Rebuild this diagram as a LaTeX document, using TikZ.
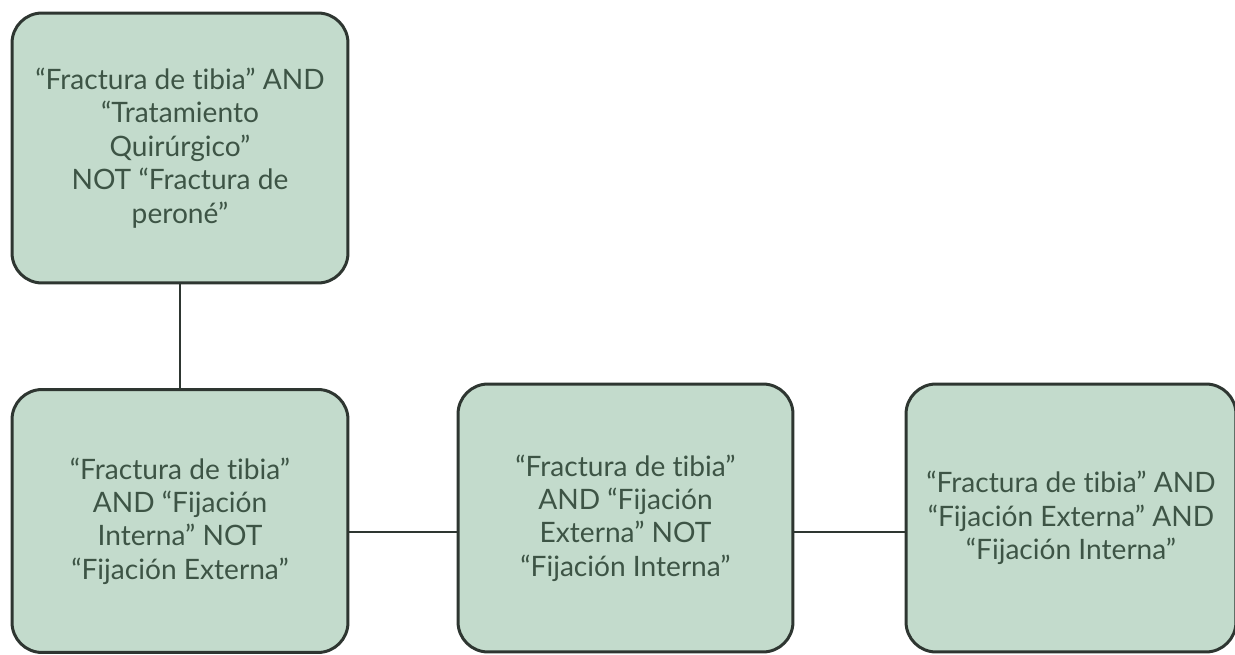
\documentclass[tikz,border=0pt]{standalone}
\usepackage{fontspec}
\setmainfont{Lato}[Ligatures=NoCommon]
\usepackage{xcolor}
\usetikzlibrary{positioning}

\definecolor{boxfill}{HTML}{C3DBCC}
\definecolor{boxline}{HTML}{2E3631}
\definecolor{boxtext}{HTML}{3D5445}

\tikzset{
    query/.style={draw=boxline, fill=boxfill, line width=1.7pt, rounded corners=0.6cm,
        text=boxtext, align=center, inner sep=0pt,
        font=\fontsize{16}{19}\selectfont},
    link/.style={draw=boxline, line width=1.3pt}
}

\begin{document}
\begin{tikzpicture}[x=0.02cm,y=-0.02cm]
    \useasboundingbox (0,0) rectangle (1235,655);

    % Boxes
    \node[query, minimum width=6.72cm, minimum height=5.4cm] (start) at (180,148)
        {“Fractura de tibia” AND\\ “Tratamiento\\ Quirúrgico”\\ NOT “Fractura de\\ peroné”};
    \node[query, minimum width=6.72cm, minimum height=5.26cm] (interna) at (180,521)
        {“Fractura de tibia”\\ AND “Fijación\\ Interna” NOT\\ “Fijación Externa”};
    \node[query, minimum width=6.7cm, minimum height=5.36cm] (externa) at (625.5,518)
        {“Fractura de tibia”\\ AND “Fijación\\ Externa” NOT\\ “Fijación Interna”};
    \node[query, minimum width=6.6cm, minimum height=5.36cm] (ambas) at (1071,518)
        {“Fractura de tibia” AND\\ “Fijación Externa” AND\\ “Fijación Interna”};

    % Connectors
    \coordinate (row) at (0,532);
    \draw[link] (start) -- (interna);
    \draw[link] (interna.east |- row) -- (externa.west |- row);
    \draw[link] (externa.east |- row) -- (ambas.west |- row);
\end{tikzpicture}
\end{document}
